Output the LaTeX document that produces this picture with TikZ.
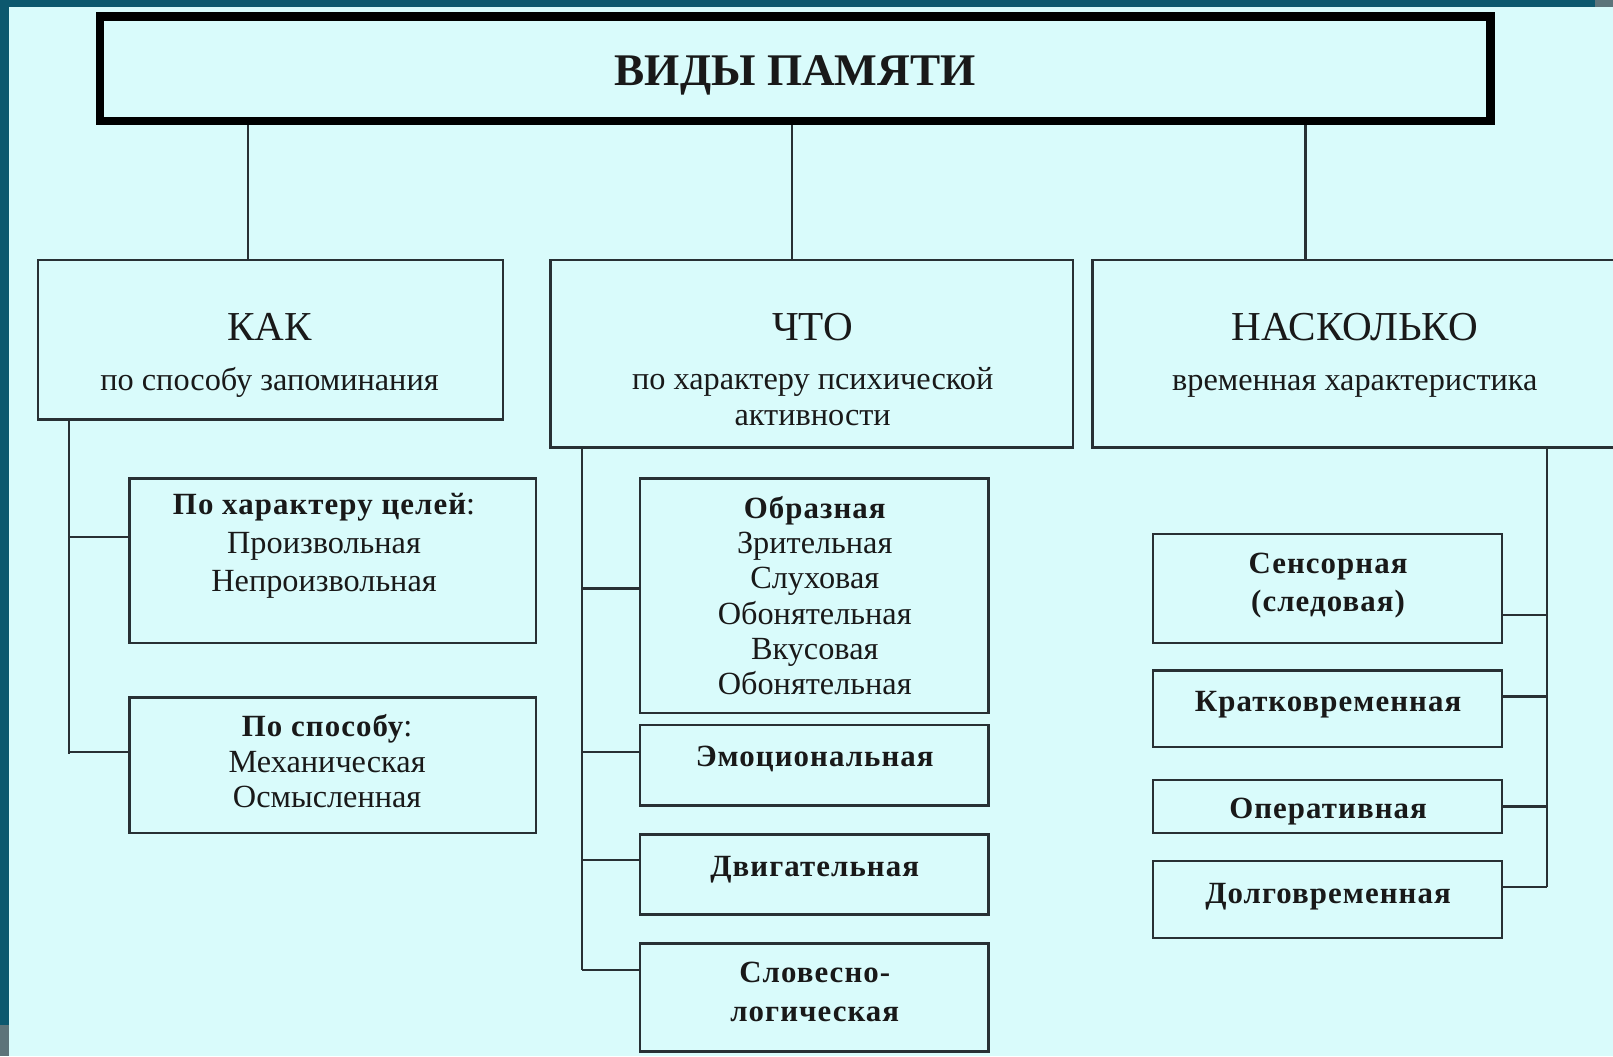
\documentclass[tikz,border=0pt]{standalone}
\usepackage{fontspec}
\setmainfont{Liberation Serif}
\usetikzlibrary{fit,calc}
\definecolor{bgc}{RGB}{217,251,251}
\definecolor{framec}{RGB}{12,88,110}
\definecolor{inkc}{RGB}{40,48,52}
\definecolor{txtc}{RGB}{25,25,25}
\begin{document}
\begin{tikzpicture}[x=0.5pt,y=-0.5pt,
  boxst/.style={draw=inkc, line width=1.2pt, inner sep=0pt},
  linkst/.style={draw=inkc, line width=1.2pt},
  hdtext/.style={font=\fontsize{20}{24}\selectfont, inner sep=0pt, text=txtc},
  subtext/.style={font=\fontsize{15.7}{17.5}\selectfont, align=center, inner sep=0pt, text=txtc},
  itemtext/.style={font=\fontsize{15.7}{17.2}\selectfont, align=center, inner sep=0pt, text=txtc},
  bitem/.style={font=\fontsize{15}{18.5}\selectfont\bfseries\addfontfeature{LetterSpace=3.5}, align=center, inner sep=0pt, text=txtc},
]
\useasboundingbox (0,0) rectangle (1568,1027);
\fill[bgc] (0,0) rectangle (1568,1027);
\fill[framec] (0,0) rectangle (1550,7);
\fill[gray!70!framec] (1550,0) rectangle (1568,7);
\fill[framec] (0,0) rectangle (9,996);
\fill[gray!70!framec] (0,996) rectangle (9,1027);

% title
\node[boxst, draw=black, line width=4pt, fit={(97,16) (1449,118)}] (title) {};
\node[font=\fontsize{22}{26}\selectfont\bfseries, text=txtc, inner sep=0pt] (titlet) at (773,73) {ВИДЫ ПАМЯТИ};

% level 2
\node[boxst, fit={(37,253) (489,408)}] (kak) {};
\node[boxst, fit={(535,253) (1043,435)}] (chto) {};
\node[boxst, fit={(1062,253) (1590,435)}] (nask) {};

\node[hdtext] (kakh) at (262,318) {КАК};
\node[subtext] (kaks) at (262,372) {по способу запоминания};
\node[hdtext] (chtoh) at (790,318) {ЧТО};
\node[subtext] (chtos) at (790,386) {по характеру психической\\активности};
\node[hdtext] (naskh) at (1317,318) {НАСКОЛЬКО};
\node[subtext] (nasks) at (1317,376) {временная характеристика};

\coordinate (c1) at (241,0);
\coordinate (c2) at (770,0);
\coordinate (c3) at (1269,0);
\draw[linkst] (title.south -| c1) -- (kak.north -| c1);
\draw[linkst] (title.south -| c2) -- (chto.north -| c2);
\draw[linkst] (title.south -| c3) -- (nask.north -| c3);

% left branch
\node[boxst, fit={(126,465) (521,625)}] (k1) {};
\node[boxst, fit={(126,678) (521,810)}] (k2) {};
\node[itemtext, font=\fontsize{15.7}{18.7}\selectfont] (k1t) at (315,531) {{\bfseries\fontsize{15}{18.7}\selectfont\addfontfeature{LetterSpace=3.5}По характеру целей}:\\Произвольная\\Непроизвольная};
\node[itemtext] (k2t) at (318,740) {{\bfseries\fontsize{15}{17.2}\selectfont\addfontfeature{LetterSpace=3.5}По способу}:\\Механическая\\Осмысленная};
\coordinate (lt) at (67,733);
\coordinate (lb1) at (67,522);
\coordinate (lb2) at (67,731);
\draw[linkst] (kak.south -| lt) -- (lt);
\draw[linkst] (lb1) -- (lb1 -| k1.west);
\draw[linkst] (lb2) -- (lb2 -| k2.west);

% middle branch
\node[boxst, fit={(622,465) (961,693)}] (o1) {};
\node[boxst, fit={(622,705) (961,783)}] (o2) {};
\node[boxst, fit={(622,811) (961,889)}] (o3) {};
\node[boxst, fit={(622,917) (961,1022)}] (o4) {};
\node[itemtext] (o1t) at (792,579) {{\bfseries\fontsize{15}{17.2}\selectfont\addfontfeature{LetterSpace=3.5}Образная}\\Зрительная\\Слуховая\\Обонятельная\\Вкусовая\\Обонятельная};
\node[bitem] (o2t) at (792,738) {Эмоциональная};
\node[bitem] (o3t) at (792,845) {Двигательная};
\node[bitem, font=\fontsize{15}{19}\selectfont\bfseries\addfontfeature{LetterSpace=3.5}] (o4t) at (792,964) {Словесно-\\логическая};
\coordinate (mt) at (566,943);
\coordinate (mb1) at (566,572);
\coordinate (mb2) at (566,731);
\coordinate (mb3) at (566,836);
\draw[linkst] (chto.south -| mt) -- (mt);
\draw[linkst] (mb1) -- (mb1 -| o1.west);
\draw[linkst] (mb2) -- (mb2 -| o2.west);
\draw[linkst] (mb3) -- (mb3 -| o3.west);
\draw[linkst] (mt) -- (mt -| o4.west);

% right branch
\node[boxst, fit={(1121,519) (1460,625)}] (r1) {};
\node[boxst, fit={(1121,652) (1460,726)}] (r2) {};
\node[boxst, fit={(1121,758) (1460,810)}] (r3) {};
\node[boxst, fit={(1121,837) (1460,912)}] (r4) {};
\node[bitem] (r1t) at (1291,569) {Сенсорная\\(следовая)};
\node[bitem] (r2t) at (1291,685) {Кратковременная};
\node[bitem] (r3t) at (1291,789) {Оперативная};
\node[bitem] (r4t) at (1291,872) {Долговременная};
\coordinate (rt) at (1504,862);
\coordinate (rb1) at (1504,598);
\coordinate (rb2) at (1504,677);
\coordinate (rb3) at (1504,784);
\draw[linkst] (nask.south -| rt) -- (rt);
\draw[linkst] (rb1) -- (rb1 -| r1.east);
\draw[linkst] (rb2) -- (rb2 -| r2.east);
\draw[linkst] (rb3) -- (rb3 -| r3.east);
\draw[linkst] (rt) -- (rt -| r4.east);
\end{tikzpicture}
\end{document}
